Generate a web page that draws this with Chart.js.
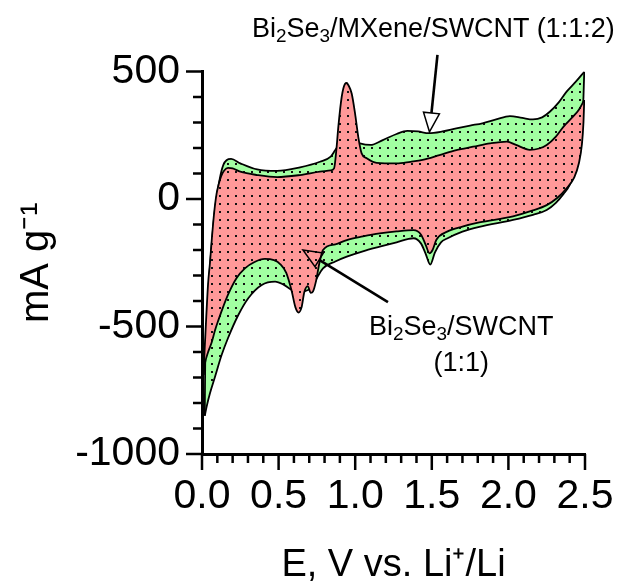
<!DOCTYPE html>
<html>
<head>
<meta charset="utf-8">
<script src="https://cdn.jsdelivr.net/npm/chart.js@4.4.1/dist/chart.umd.min.js"></script>
<style>
html,body{margin:0;padding:0;background:#fff;}
#wrap{position:relative;width:617px;height:584px;overflow:hidden;}
#c{position:absolute;left:0;top:0;}
.ann{position:absolute;font-family:'Liberation Sans',Arial,sans-serif;font-size:27px;color:#000;line-height:1;white-space:nowrap;}
.ann sub{font-size:0.7em;vertical-align:-0.25em;line-height:0;}
</style>
</head>
<body>
<div id="wrap">
<canvas id="c" width="617" height="584"></canvas>
<div class="ann" style="left:252px;top:15px;">Bi<sub>2</sub>Se<sub>3</sub>/MXene/SWCNT (1:1:2)</div>
<div class="ann" style="left:369px;top:308px;line-height:36px;text-align:center;">Bi<sub>2</sub>Se<sub>3</sub>/SWCNT<br>(1:1)</div>
</div>
<script>
// ---- Data (E in V vs Li+/Li, current in mA g-1) ----
// Bi2Se3/SWCNT (1:1): anodic (upper) and cathodic (lower) branches
const redUpperV = [0.010,0.018,0.028,0.040,0.052,0.065,0.080,0.095,0.110,0.125,0.145,0.170,0.200,0.250,0.360,0.490,0.640,0.770,0.840,0.862,0.878,0.890,0.912,0.933,0.945,0.955,0.977,0.999,1.020,1.042,1.075,1.140,1.270,1.360,1.440,1.550,1.660,1.770,1.880,1.990,2.050,2.140,2.200,2.250,2.310,2.360,2.420,2.460,2.495];
const redUpperI = [-690,-580,-460,-330,-250,-150,-50,20,60,90,112,122,120,107,94,86,94,107,112,120,199,284,401,451,455,447,414,336,244,179,160,142,140,146,153,172,192,205,218,225,212,193,198,212,245,284,322,350,388];
const redLowerV = [0.010,0.020,0.040,0.063,0.085,0.107,0.140,0.170,0.226,0.280,0.340,0.410,0.470,0.510,0.550,0.585,0.610,0.630,0.650,0.668,0.690,0.710,0.725,0.745,0.765,0.790,0.870,0.945,1.050,1.160,1.270,1.380,1.430,1.460,1.485,1.505,1.530,1.600,1.700,1.810,2.030,2.160,2.250,2.320,2.380,2.430,2.460,2.480,2.490,2.495];
const redLowerI = [-690,-643,-600,-563,-515,-475,-420,-375,-310,-272,-248,-235,-240,-255,-290,-360,-425,-445,-425,-365,-342,-368,-362,-320,-255,-200,-178,-161,-147,-135,-127,-122,-140,-180,-213,-200,-160,-128,-108,-92,-68,-45,-24,5,42,85,140,215,300,388];
// Bi2Se3/MXene/SWCNT (1:1:2)
const greenUpperV = [0.018,0.021,0.030,0.040,0.052,0.065,0.080,0.095,0.110,0.125,0.140,0.160,0.190,0.250,0.360,0.490,0.640,0.770,0.840,0.870,0.920,0.970,1.030,1.100,1.180,1.270,1.340,1.410,1.480,1.570,1.660,1.750,1.830,1.920,2.010,2.090,2.160,2.220,2.270,2.330,2.380,2.440,2.495];
const greenUpperI = [-850,-640,-510,-375,-265,-165,-65,5,60,105,135,152,157,140,116,110,124,146,166,192,230,232,218,212,231,255,267,265,258,265,277,288,297,312,325,318,312,320,342,380,421,460,499];
const greenLowerV = [0.018,0.030,0.052,0.085,0.128,0.170,0.237,0.302,0.390,0.477,0.530,0.580,0.630,0.680,0.720,0.750,0.790,0.870,0.945,1.050,1.160,1.270,1.380,1.430,1.460,1.490,1.520,1.560,1.600,1.700,1.810,2.030,2.160,2.250,2.310,2.360,2.400,2.430,2.460,2.480,2.490,2.495];
const greenLowerI = [-850,-815,-762,-697,-612,-545,-455,-389,-337,-324,-335,-355,-368,-360,-345,-310,-272,-245,-226,-205,-187,-170,-154,-175,-215,-257,-210,-170,-155,-128,-109,-82,-62,-43,-15,20,55,110,190,290,400,499];

// Tick labels
const xMajorTicks = [0.0,0.5,1.0,1.5,2.0,2.5];
const yMajorTicks = [-1000,-500,0,500];

// Annotation arrows (data units)
const arrowSpecs = [
  {from:[1.537,565], to:[1.485,263]},
  {from:[1.214,-404], to:[0.659,-200]}
];

const FONT = "'Liberation Sans', Arial, sans-serif";
const pts = (xs, ys) => xs.map((v,i)=>({x:v, y:ys[i]}));
const isMajor = (v, list) => list.some(m => Math.abs(m - v) < 1e-6);

function dotPattern(color){
  const c = document.createElement('canvas');
  c.width = 8; c.height = 8;
  const g = c.getContext('2d');
  g.fillStyle = color; g.fillRect(0,0,8,8);
  g.fillStyle = '#111'; g.fillRect(3,3,2,2);
  return g.createPattern(c,'repeat');
}
const redFill = dotPattern('#ff9999');
const greenFill = dotPattern('#a2ffa2');

const axisTicks = {
  id:'axisTicks',
  afterDraw(chart){
    const {ctx, chartArea, scales:{x, y}} = chart;
    ctx.save();
    ctx.strokeStyle = '#000'; ctx.lineWidth = 2.5; ctx.lineCap = 'butt';
    x.ticks.forEach(t => {
      const px = x.getPixelForValue(t.value);
      const len = isMajor(t.value, xMajorTicks) ? 16 : 9;
      ctx.beginPath(); ctx.moveTo(px, chartArea.bottom); ctx.lineTo(px, chartArea.bottom + len); ctx.stroke();
    });
    y.ticks.forEach(t => {
      const py = y.getPixelForValue(t.value);
      const len = isMajor(t.value, yMajorTicks) ? 16 : 9;
      ctx.beginPath(); ctx.moveTo(chartArea.left, py); ctx.lineTo(chartArea.left - len, py); ctx.stroke();
    });
    ctx.restore();
  }
};

const arrowPlugin = {
  id:'arrows',
  afterDatasetsDraw(chart){
    const {ctx, scales:{x, y}} = chart;
    ctx.save();
    ctx.strokeStyle = '#000';
    arrowSpecs.forEach(a => {
      const x0 = x.getPixelForValue(a.from[0]), y0 = y.getPixelForValue(a.from[1]);
      const x1 = x.getPixelForValue(a.to[0]), y1 = y.getPixelForValue(a.to[1]);
      const L = Math.hypot(x1-x0, y1-y0);
      const dx = (x1-x0)/L, dy = (y1-y0)/L;
      const head = 19, half = 8;
      const bx = x1 - dx*head, by = y1 - dy*head;
      ctx.lineWidth = 2.6;
      ctx.beginPath(); ctx.moveTo(x0,y0); ctx.lineTo(bx,by); ctx.stroke();
      ctx.lineWidth = 1.5; ctx.lineJoin = 'miter';
      ctx.beginPath();
      ctx.moveTo(x1,y1);
      ctx.lineTo(bx - dy*half, by + dx*half);
      ctx.lineTo(bx + dy*half, by - dx*half);
      ctx.closePath(); ctx.stroke();
    });
    ctx.restore();
  }
};

const lineBase = {borderColor:'#000', borderWidth:1.8, pointRadius:0, cubicInterpolationMode:'monotone'};

new Chart(document.getElementById('c'), {
  type:'line',
  data:{
    datasets:[
      Object.assign({label:'Bi2Se3/SWCNT upper', data:pts(redUpperV, redUpperI), order:0, fill:false}, lineBase),
      Object.assign({label:'Bi2Se3/SWCNT lower', data:pts(redLowerV, redLowerI), order:1, fill:'-1', backgroundColor:redFill}, lineBase),
      Object.assign({label:'Bi2Se3/MXene/SWCNT upper', data:pts(greenUpperV, greenUpperI), order:2, fill:false}, lineBase),
      Object.assign({label:'Bi2Se3/MXene/SWCNT lower', data:pts(greenLowerV, greenLowerI), order:3, fill:'-1', backgroundColor:greenFill}, lineBase)
    ]
  },
  options:{
    responsive:false, animation:false, devicePixelRatio:1,
    layout:{padding:{top:71.5, right:32, bottom:0, left:0}},
    plugins:{legend:{display:false}, tooltip:{enabled:false}},
    scales:{
      x:{
        type:'linear', min:0, max:2.5,
        afterFit(s){ s.height = 130; },
        border:{display:true, color:'#000', width:3},
        grid:{display:true, drawOnChartArea:false, drawTicks:true, tickLength:15, tickColor:'rgba(0,0,0,0)'},
        ticks:{stepSize:0.1, autoSkip:false, maxRotation:0, padding:3, color:'#000',
          font:{family:FONT, size:41},
          callback:(v)=> isMajor(v, xMajorTicks) ? v.toFixed(1) : ''},
        title:{display:true, text:'E, V vs. Li\u207A/Li', color:'#000', font:{family:FONT, size:38}, padding:{top:0, bottom:-4}}
      },
      y:{
        type:'linear', min:-1000, max:500,
        afterFit(s){ s.width = 202; },
        border:{display:true, color:'#000', width:3},
        grid:{display:true, drawOnChartArea:false, drawTicks:true, tickLength:15, tickColor:'rgba(0,0,0,0)'},
        ticks:{stepSize:100, autoSkip:false, padding:7, color:'#000',
          font:{family:FONT, size:41},
          callback:(v)=> isMajor(v, yMajorTicks) ? String(v) : ''},
        title:{display:true, text:'mA g\u207B\u00B9', color:'#000', font:{family:FONT, size:40}, padding:{top:13, bottom:0}}
      }
    }
  },
  plugins:[axisTicks, arrowPlugin]
});
</script>
</body>
</html>
